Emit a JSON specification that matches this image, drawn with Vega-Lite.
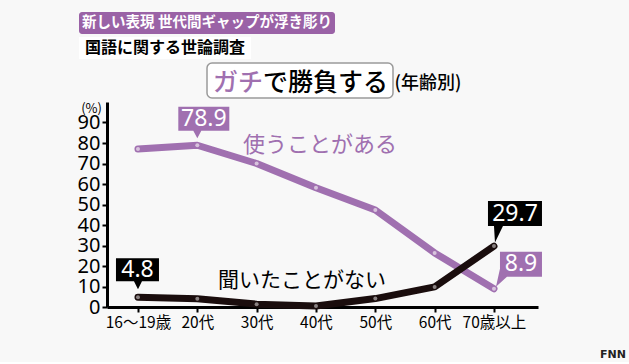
{
  "$schema": "https://vega.github.io/schema/vega-lite/v6.json",
  "background": "#f8f8f8",
  "padding": {"left": 77, "top": 12, "right": 4, "bottom": 2},
  "config": {"font": "Noto Sans CJK JP", "view": {"stroke": null}},
  "title": {"text": "FNN", "orient": "bottom", "anchor": "end", "fontSize": 11, "fontWeight": "bold", "color": "#222222", "font": "DejaVu Sans", "dx": 84, "offset": 18},
  "spacing": 3,
  "vconcat": [
    {
      "width": 256, "height": 22,
      "view": {"fill": "#9a62a6", "stroke": null, "cornerRadius": 3},
      "data": {"values": [{}]},
      "mark": {"type": "text", "text": "新しい表現 世代間ギャップが浮き彫り", "color": "white", "fontSize": 14.5, "fontWeight": "bold"}
    },
    {
      "width": 172, "height": 22,
      "view": {"fill": "#ffffff", "stroke": null},
      "data": {"values": [{}]},
      "mark": {"type": "text", "text": "国語に関する世論調査", "color": "black", "fontSize": 16, "fontWeight": "bold"}
    },
    {
      "spacing": 0,
      "hconcat": [
        {
          "width": 127, "height": 35,
          "data": {"values": [{}]},
          "mark": {"type": "text", "text": ""}
        },
        {
          "width": 186, "height": 35,
          "view": {"fill": "#ffffff", "stroke": "#9a9a9a", "strokeWidth": 1.5, "cornerRadius": 5},
          "data": {"values": [{}]},
          "layer": [
            {"mark": {"type": "text", "text": "ガチ", "color": "#a070b0", "fontSize": 25, "fontWeight": 500, "align": "right", "dx": -37, "dy": 2}},
            {"mark": {"type": "text", "text": "で勝負する", "color": "black", "fontSize": 25, "fontWeight": 500, "align": "left", "dx": -37, "dy": 2}}
          ]
        },
        {
          "width": 66, "height": 35,
          "data": {"values": [{}]},
          "mark": {"type": "text", "text": "(年齢別)", "color": "black", "fontSize": 18, "fontWeight": 500, "dy": 3}
        }
      ]
    },
    {
      "width": 459, "height": 205,
      "data": {"values": [
        {"series": "使うことがある", "age": "16〜19歳", "value": 77.1},
        {"series": "使うことがある", "age": "20代", "value": 78.9},
        {"series": "使うことがある", "age": "30代", "value": 70.0},
        {"series": "使うことがある", "age": "40代", "value": 58.2},
        {"series": "使うことがある", "age": "50代", "value": 47.3},
        {"series": "使うことがある", "age": "60代", "value": 26.4},
        {"series": "使うことがある", "age": "70歳以上", "value": 8.9},
        {"series": "聞いたことがない", "age": "16〜19歳", "value": 4.8},
        {"series": "聞いたことがない", "age": "20代", "value": 4.0},
        {"series": "聞いたことがない", "age": "30代", "value": 1.4},
        {"series": "聞いたことがない", "age": "40代", "value": 0.5},
        {"series": "聞いたことがない", "age": "50代", "value": 4.1},
        {"series": "聞いたことがない", "age": "60代", "value": 9.8},
        {"series": "聞いたことがない", "age": "70歳以上", "value": 29.7}
      ]},
      "encoding": {
        "x": {
          "field": "age", "type": "ordinal",
          "scale": {"type": "point", "domain": ["16〜19歳", "20代", "30代", "40代", "50代", "60代", "70歳以上"], "range": [28, 459], "padding": 0.632, "align": 0.413},
          "axis": {"title": null, "labelAngle": 0, "labelFontSize": 15.5, "labelColor": "black", "domainColor": "black", "domainWidth": 3, "tickColor": "black", "tickWidth": 2, "tickSize": 5, "labelPadding": 3}
        },
        "y": {
          "field": "value", "type": "quantitative",
          "scale": {"domain": [0, 100], "nice": false},
          "axis": {"offset": -28, "values": [0, 10, 20, 30, 40, 50, 60, 70, 80, 90], "title": "(%)", "titleAngle": 0, "titleAlign": "center", "titleBaseline": "middle", "titleX": -16, "titleY": 6, "titleFontSize": 13, "titleFontWeight": "normal", "titleColor": "black", "labelFontSize": 20, "labelColor": "black", "labelFont": "Noto Sans", "domainColor": "black", "domainWidth": 3, "tickColor": "black", "tickWidth": 2, "tickSize": 5, "labelPadding": 2, "grid": false}
        }
      },
      "layer": [
        {
          "transform": [{"filter": "datum.series === '使うことがある'"}],
          "mark": {"type": "line", "color": "#a070b0", "strokeWidth": 7, "strokeCap": "round", "strokeJoin": "round"}
        },
        {
          "transform": [{"filter": "datum.series === '使うことがある'"}],
          "mark": {"type": "point", "filled": true, "size": 16, "color": "#d8c3dd", "opacity": 1}
        },
        {
          "transform": [{"filter": "datum.series === '聞いたことがない'"}],
          "mark": {"type": "line", "color": "#1a0d0d", "strokeWidth": 7, "strokeCap": "round", "strokeJoin": "round"}
        },
        {
          "transform": [{"filter": "datum.series === '聞いたことがない'"}],
          "mark": {"type": "point", "filled": true, "size": 16, "color": "#8a8282", "opacity": 1}
        },
        {
          "transform": [{"filter": "datum.series === '使うことがある' && datum.age === '20代'"}],
          "layer": [
            {"mark": {"type": "point", "shape": "M-1.9,-3.85H3.2V-1.45H0.4L0,-0.7L-0.4,-1.45H-1.9Z", "size": 400, "filled": true, "opacity": 1, "color": "#a070b0", "strokeWidth": 0}},
            {"mark": {"type": "text", "color": "white", "fontSize": 23, "font": "Noto Sans", "dx": 6.5, "dy": -26, "baseline": "middle"}, "encoding": {"text": {"field": "value", "type": "quantitative", "format": ".1f"}}}
          ]
        },
        {
          "transform": [{"filter": "datum.series === '聞いたことがない' && datum.age === '16〜19歳'"}],
          "layer": [
            {"mark": {"type": "point", "shape": "M-2.2,-3.9H2.1V-1.6H0.4L0,-0.8L-0.4,-1.6H-2.2Z", "size": 400, "filled": true, "opacity": 1, "color": "#000000", "strokeWidth": 0}},
            {"mark": {"type": "text", "color": "white", "fontSize": 23, "font": "Noto Sans", "dx": -0.5, "dy": -27.5, "baseline": "middle"}, "encoding": {"text": {"field": "value", "type": "quantitative", "format": ".1f"}}}
          ]
        },
        {
          "transform": [{"filter": "datum.series === '聞いたことがない' && datum.age === '70歳以上'"}],
          "layer": [
            {"mark": {"type": "point", "shape": "M-0.6,-4.5H4.8V-2.0H0.9L0.1,-0.35L0,-2.0H-0.6Z", "size": 400, "filled": true, "opacity": 1, "color": "#000000", "strokeWidth": 0}},
            {"mark": {"type": "text", "color": "white", "fontSize": 23, "font": "Noto Sans", "dx": 21, "dy": -32.5, "baseline": "middle"}, "encoding": {"text": {"field": "value", "type": "quantitative", "format": ".1f"}}}
          ]
        },
        {
          "transform": [{"filter": "datum.series === '使うことがある' && datum.age === '70歳以上'"}],
          "layer": [
            {"mark": {"type": "point", "shape": "M0.6,-3.7H4.8V-1.2H1.3L0.2,-0.2L0.6,-2.0Z", "size": 400, "filled": true, "opacity": 1, "color": "#a070b0", "strokeWidth": 0}},
            {"mark": {"type": "text", "color": "white", "fontSize": 23, "font": "Noto Sans", "dx": 27, "dy": -24.5, "baseline": "middle"}, "encoding": {"text": {"field": "value", "type": "quantitative", "format": ".1f"}}}
          ]
        },
        {
          "transform": [{"filter": "datum.series === '使うことがある' && datum.age === '40代'"}],
          "mark": {"type": "text", "color": "#a070b0", "fontSize": 22, "dx": 4, "baseline": "middle"},
          "encoding": {"y": {"datum": 79}, "text": {"value": "使うことがある"}}
        },
        {
          "transform": [{"filter": "datum.series === '聞いたことがない' && datum.age === '40代'"}],
          "mark": {"type": "text", "color": "black", "fontSize": 21, "dx": -14, "baseline": "middle"},
          "encoding": {"y": {"datum": 12.7}, "text": {"value": "聞いたことがない"}}
        }
      ]
    }
  ]
}
